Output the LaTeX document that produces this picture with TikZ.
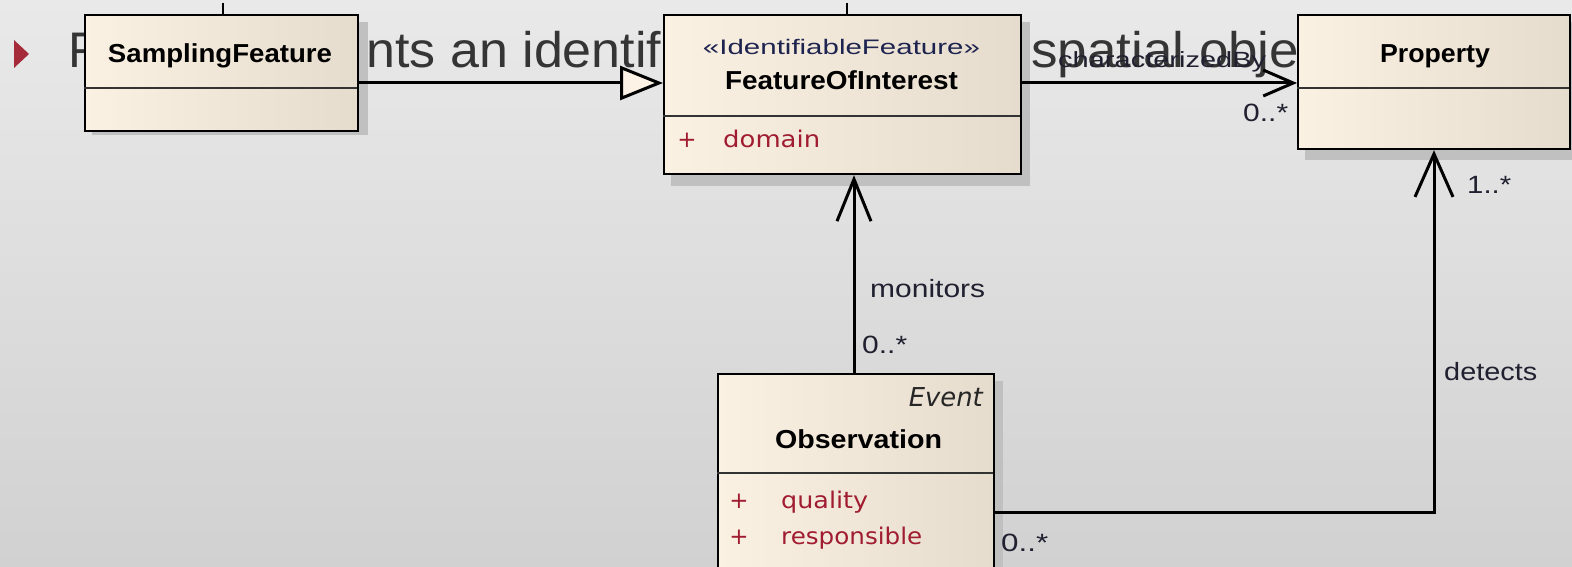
\documentclass[tikz,border=0pt]{standalone}
\usepackage{fontspec}
\usepackage{graphicx}
\setmainfont{Liberation Sans}
\newfontfamily\dejavu{DejaVu Sans}
\usetikzlibrary{arrows.meta}
\definecolor{bgtop}{HTML}{E9E9E9}
\definecolor{bgbot}{HTML}{D1D1D1}
\definecolor{boxl}{HTML}{FBF1E3}
\definecolor{boxr}{HTML}{E6DCCD}
\definecolor{shadowc}{HTML}{C0C0C0}
\definecolor{attr}{HTML}{A01C30}
\definecolor{bulletc}{HTML}{A52A3A}
\definecolor{slidetext}{HTML}{353535}
\definecolor{stereo}{HTML}{1E2450}
\definecolor{lbl}{HTML}{202030}
\definecolor{tri}{HTML}{FCF3E6}
\newcommand\fitw[2]{\resizebox{#1}{\height}{#2}}
\tikzset{
  umlbox/.style={draw=black, line width=2.2pt, left color=boxl, right color=boxr, inner sep=0pt, anchor=north west},
  shadowbox/.style={fill=shadowc, draw=none},
  divider/.style={draw=black!80, line width=1.6pt},
  clsname/.style={font=\bfseries\fontsize{26}{30}\selectfont, anchor=base, inner sep=0pt},
  stereotxt/.style={font=\fontsize{21}{25}\selectfont, text=stereo, anchor=base, inner sep=0pt},
  attrtxt/.style={font=\dejavu\fontsize{23}{27}\selectfont, text=attr, anchor=base west, inner sep=0pt},
  plussign/.style={font=\dejavu\fontsize{23}{27}\selectfont, text=attr, anchor=base, inner sep=0pt},
  lbltxt/.style={font=\fontsize{25}{30}\selectfont, text=lbl, anchor=base west, inner sep=0pt},
  slide/.style={font=\fontsize{50}{60}\selectfont, text=slidetext, inner sep=0pt},
  conn/.style={line width=3pt, draw=black},
  tick/.style={line width=2.8pt, draw=black},
}
\begin{document}
\begin{tikzpicture}[x=1pt,y=-1pt]
\useasboundingbox (0,0) rectangle (1572,567);
\clip (0,0) rectangle (1572,567);
% slide background
\shade[top color=bgtop, bottom color=bgbot] (0,0) rectangle (1572,567);
% bullet and slide text
\fill[bulletc] (14,40) -- (29,54) -- (14,68) -- cycle;
\node[slide, anchor=base west] (s1) at (68,68) {Feature};
\node[slide, anchor=base west] (s2) at (190,68) {\scalebox{1.04}[1]{represents an identifiable}};
\node[slide, anchor=base west] (s3) at (1031,68) {\scalebox{1.06}[1]{spatial object}};
% cut-off connectors from above
\coordinate (t1) at (223,3);
\coordinate (t1b) at (223,135);
\coordinate (t2) at (847,3);
\draw[tick] (t1) -- (t1b);
% shadows
\fill[shadowbox] (92,22) rectangle (368,135);
\fill[shadowbox] (671,22) rectangle (1030,186);
\fill[shadowbox] (1305,22) rectangle (1590,160);
\fill[shadowbox] (725,381) rectangle (1003,600);
% boxes
\node[umlbox, minimum width=273pt, minimum height=116pt] (sf) at (84,14) {};
\node[umlbox, minimum width=357pt, minimum height=159pt] (foi) at (663,14) {};
\node[umlbox, minimum width=272pt, minimum height=134pt] (prop) at (1297,14) {};
\node[umlbox, minimum width=276pt, minimum height=220pt] (obs) at (717,373) {};
\draw[tick] (t2) -- (foi.north -| t2);
% dividers
\draw[divider] (84,88) -- (357,88);
\draw[divider] (663,116) -- (1020,116);
\draw[divider] (1297,88) -- (1569,88);
\draw[divider] (717,473) -- (993,473);
% box texts
\node[clsname] (sfn) at (220,63) {\fitw{224pt}{SamplingFeature}};
\node[stereotxt] (foist) at (841.5,55) {\fitw{277pt}{«IdentifiableFeature»}};
\node[clsname] (foin) at (841.5,90) {\fitw{233pt}{FeatureOfInterest}};
\node[plussign] (p1) at (687,148) {+};
\node[attrtxt] (a1) at (723,148) {\fitw{97pt}{domain}};
\node[clsname] (propn) at (1435,63) {\fitw{110pt}{Property}};
\node[font=\dejavu\itshape\fontsize{26}{30}\selectfont, text=black!85, anchor=base east, inner sep=0pt] (ev) at (983,406) {\fitw{74pt}{Event}};
\node[clsname] (obsn) at (858.5,448) {\fitw{167pt}{Observation}};
\node[plussign] (p2) at (739,508) {+};
\node[attrtxt] (a2) at (781,508) {\fitw{87pt}{quality}};
\node[plussign] (p3) at (739,544) {+};
\node[attrtxt] (a3) at (781,544) {\fitw{141pt}{responsible}};
% connectors
\coordinate (ya) at (0,83);
\coordinate (xm) at (854,0);
\coordinate (yd) at (0,512);
\coordinate (xd) at (1434,0);
\draw[conn, -{Triangle[length=43pt, width=34pt, fill=tri]}] (sf.east |- ya) -- (foi.west |- ya);
\draw[conn, -{Straight Barb[length=30pt, width=26pt]}] (foi.east |- ya) -- (prop.west |- ya);
\draw[conn, -{Straight Barb[length=42pt, width=34pt]}] (obs.north -| xm) -- (foi.south -| xm);
\draw[conn, -{Straight Barb[length=43pt, width=38pt]}] (obs.east |- yd) -| (prop.south -| xd);
% connector labels
\node[lbltxt, font=\fontsize{22}{26}\selectfont] (l1) at (1058,68) {\fitw{208pt}{characterizedBy}};
\node[lbltxt] (m1) at (1243,122) {\fitw{45pt}{0..*}};
\node[lbltxt] (l2) at (870,297) {\fitw{115pt}{monitors}};
\node[lbltxt] (m2) at (862,353) {\fitw{45pt}{0..*}};
\node[lbltxt] (m3) at (1467,194) {\fitw{44pt}{1..*}};
\node[lbltxt] (l3) at (1444,380) {\fitw{93pt}{detects}};
\node[lbltxt] (m4) at (1001,551) {\fitw{47pt}{0..*}};
\end{tikzpicture}
\end{document}
